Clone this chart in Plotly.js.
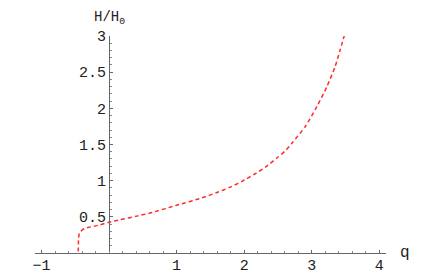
<!DOCTYPE html>
<html>
<head>
<meta charset="utf-8">
<script src="https://cdn.plot.ly/plotly-3.0.1.min.js"></script>
<style>html,body{margin:0;padding:0;background:#fff;}#chart{width:444px;height:274px;}</style>
</head>
<body>
<div id="chart"></div>
<script>
// Values
const qValues = [-0.455, -0.454, -0.451, -0.445, -0.435, -0.419, -0.395, -0.36, -0.3, -0.2, -0.133, 0.0, 0.163, 0.41, 0.607, 1.0, 1.373, 1.596, 1.793, 1.966, 2.148, 2.321, 2.493, 2.607, 2.707, 2.904, 3.077, 3.225, 3.348, 3.422, 3.481];
const hValues = [0.02, 0.12, 0.2, 0.25, 0.28, 0.30, 0.32, 0.338, 0.355, 0.375, 0.39, 0.424, 0.46, 0.51, 0.553, 0.66, 0.761, 0.836, 0.91, 0.99, 1.086, 1.19, 1.32, 1.41, 1.517, 1.747, 2.025, 2.30, 2.58, 2.81, 3.0];
const xTickVals = [-1, 1, 2, 3, 4];
const xTickText = ['\u22121', '1', '2', '3', '4'];
const yTickVals = [0.5, 1, 1.5, 2, 2.5, 3];
const yTickText = ['0.5', '1', '1.5', '2', '2.5', '3'];
const xLabel = 'q';
const yLabel = 'H/H<sub>0</sub>';

const xRange = [-1.096, 4.1];
const yRange = [0, 3];
const monoFamily = "'Liberation Mono', 'Courier New', monospace";
const tickFont = {family: monoFamily, size: 15, color: '#222', weight: 'normal'};

const trace = {
  x: qValues, y: hValues, mode: 'lines', type: 'scatter',
  line: {color: '#ff2a2a', width: 1.5, dash: '4px,3px', shape: 'spline', smoothing: 0.6},
  hoverinfo: 'skip', showlegend: false
};

const layout = {
  width: 444, height: 274,
  margin: {l: 35, r: 58, t: 36, b: 21, pad: 0},
  paper_bgcolor: '#fff', plot_bgcolor: '#fff',
  showlegend: false,
  font: {family: monoFamily, color: '#222'},
  xaxis: {
    range: xRange, showgrid: false, zeroline: false,
    showline: true, linecolor: '#666', linewidth: 1,
    ticks: 'inside', ticklen: 3, tickcolor: '#666', tickwidth: 1,
    tickmode: 'array', tickvals: xTickVals, ticktext: xTickText,
    tickfont: tickFont, ticklabelstandoff: -2,
    minor: {tickmode: 'linear', tick0: 0, dtick: 0.2, ticks: 'inside', ticklen: 2, tickcolor: '#888', showgrid: false}
  },
  yaxis: {
    range: yRange, anchor: 'free', position: (0 - xRange[0]) / (xRange[1] - xRange[0]),
    showgrid: false, zeroline: false,
    showline: true, linecolor: '#666', linewidth: 1,
    ticks: 'inside', ticklen: 3, tickcolor: '#666', tickwidth: 1,
    tickmode: 'array', tickvals: yTickVals, ticktext: yTickText,
    tickfont: tickFont,
    minor: {tickmode: 'linear', tick0: 0, dtick: 0.1, ticks: 'inside', ticklen: 2, tickcolor: '#888', showgrid: false}
  },
  annotations: [
    {text: xLabel, xref: 'paper', yref: 'paper', x: 1.035, y: 0.0, xanchor: 'left', yanchor: 'middle',
     showarrow: false, font: {family: monoFamily, size: 16, color: '#222'}},
    {text: yLabel, xref: 'paper', yref: 'paper', x: 0.211, y: 1.03, xanchor: 'center', yanchor: 'bottom',
     showarrow: false, font: {family: monoFamily, size: 14, color: '#222'}}
  ]
};

Plotly.newPlot('chart', [trace], layout, {displayModeBar: false, staticPlot: true});
</script>
</body>
</html>
